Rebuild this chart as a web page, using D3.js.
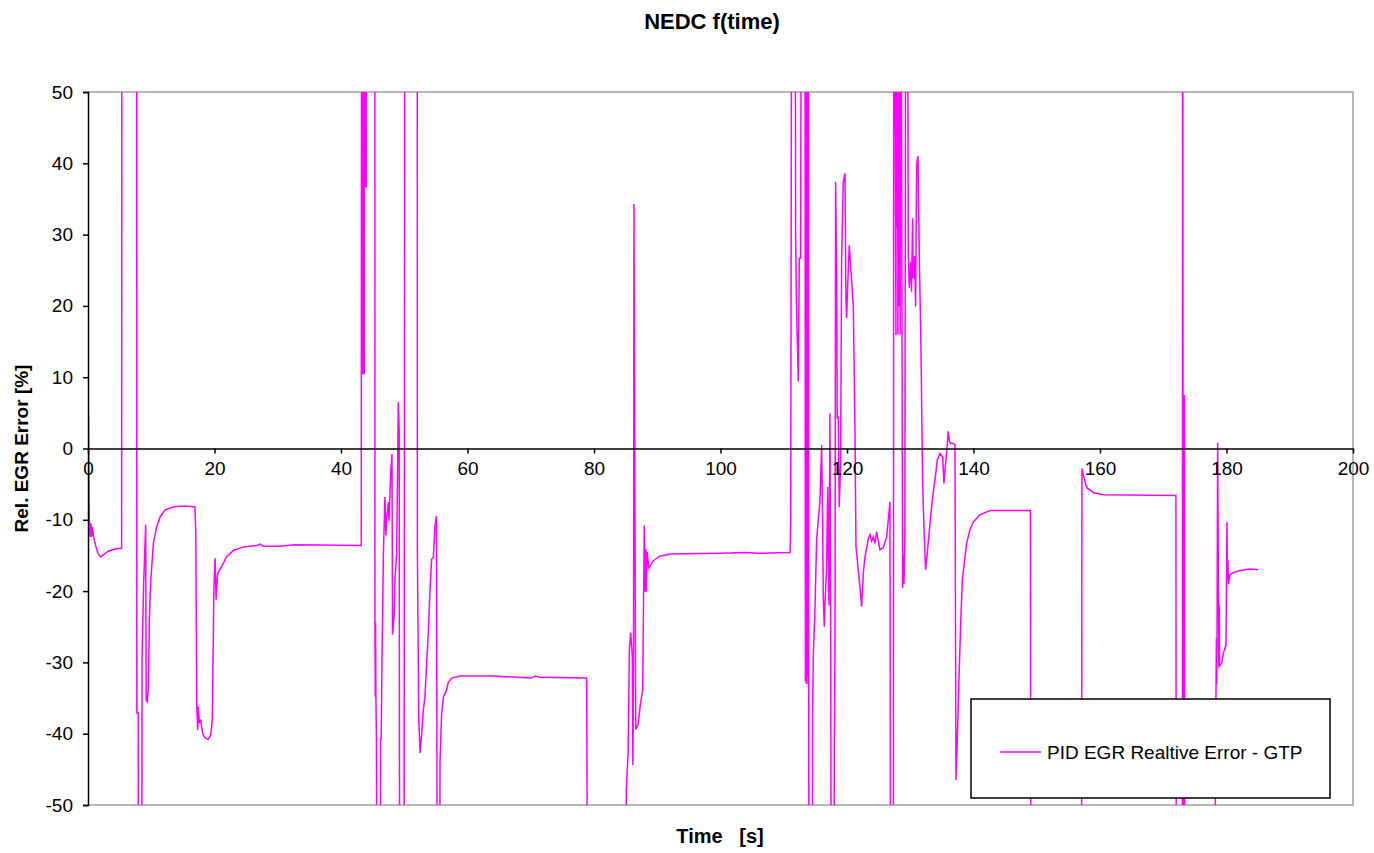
<!DOCTYPE html>
<html>
<head>
<meta charset="utf-8">
<script src="https://cdn.jsdelivr.net/npm/d3@7"></script>
<style>
  body { margin: 0; background: #fff; }
  svg text { font-family: "Liberation Sans", Arial, sans-serif; }
</style>
</head>
<body>
<div id="chart"></div>
<script>
// time axis [s] and relative EGR error [%]; +/-100 marks readings off the plotted range
const timeSec = [
  0, 0.03, 0.08, 0.12, 0.2, 0.35, 0.45, 0.55, 0.7, 0.9, 1.26, 1.6, 2.0, 2.6, 3.2, 4.27, 5.32,
  5.37, 7.7, 7.72, 7.95, 8.0, 8.45, 8.55, 8.8, 9.12, 9.2, 9.38, 9.55, 9.7, 9.9, 10.33, 10.86,
  11.4, 12.2, 13.5, 14.5, 15.9, 16.9, 17.05, 17.2, 17.35, 17.45, 17.6, 17.8, 18.13, 18.5, 19.0,
  19.4, 19.66, 19.9, 20.1, 20.25, 20.5, 21.1, 21.9, 23.0, 24.6, 26.7, 27.2, 27.7, 30.3, 32.7,
  43.2, 43.27, 43.35, 43.4, 43.45, 43.5, 43.56, 43.62, 43.68, 43.74, 43.8, 44.0, 44.05, 45.35,
  45.37, 45.42, 45.47, 45.52, 45.6, 45.8, 46.2, 46.25, 46.35, 46.5, 46.7, 46.95, 47.1, 47.2,
  47.5, 47.6, 47.85, 48.06, 48.15, 48.4, 48.55, 48.8, 49.06, 49.2, 49.3, 49.95, 50.1, 52.05,
  52.07, 52.3, 52.5, 52.75, 53.0, 53.28, 53.54, 53.8, 54.07, 54.33, 54.6, 54.86, 55.1, 55.28,
  55.6, 55.65, 55.9, 56.2, 56.6, 56.97, 57.5, 58.8, 64, 70.1, 70.8, 71.4, 78.84, 79.1,
  85.05, 85.1, 85.4, 85.6, 85.8, 86.05, 86.15, 86.25, 86.32, 86.45, 86.6, 86.95, 87.3, 87.7,
  87.95, 88.1, 88.2, 88.3, 88.4, 88.7, 89.3, 90.4, 92, 100, 104, 106, 111.0, 111.1, 111.3,
  111.77, 111.88, 112.03, 112.3, 112.46, 112.67, 112.83, 113.35, 113.42, 113.48, 113.56,
  113.62, 113.7, 113.76, 113.84, 113.9, 113.98, 114.5, 114.55, 114.67, 114.93, 115.2, 115.46,
  115.72, 115.99, 116.15, 116.25, 116.41, 116.51, 116.78, 116.94, 117.15, 117.3, 117.41,
  117.57, 117.9, 117.99, 118.1, 118.2, 118.36, 118.46, 118.62, 118.78, 118.99, 119.15, 119.41,
  119.68, 119.83, 119.94, 120.1, 120.36, 120.57, 120.78, 121.0, 121.26, 121.42, 121.78,
  122.05, 122.31, 122.58, 122.84, 123.1, 123.37, 123.63, 123.9, 124.16, 124.42, 124.68,
  124.95, 125.21, 125.74, 126.26, 126.53, 126.79, 126.95, 127.32, 127.4, 127.74, 127.8,
  127.9, 127.95, 128.05, 128.1, 128.2, 128.3, 128.4, 128.48, 128.79, 128.9, 129.0, 129.15,
  129.32, 129.5, 129.69, 129.85, 130.11, 130.2, 130.37, 130.45, 130.59, 130.7, 130.85,
  131.01, 131.22, 131.43, 131.69, 131.96, 132.17, 132.43, 132.69, 133.12, 133.54, 133.91,
  134.27, 134.7, 135.12, 135.33, 135.49, 135.75, 136.01, 136.2, 136.38, 136.8, 137.07,
  137.23, 137.44, 137.7, 137.96, 138.23, 138.54, 138.91, 139.44, 139.97, 141.02, 142.6,
  149.0, 149.1, 157.05, 157.15, 157.4, 157.9, 159, 160.6, 172.0, 172.1, 173.02, 173.06,
  173.12, 173.18, 173.24, 173.3, 173.36, 173.42, 177.4, 178.2, 178.25, 178.34, 178.4, 178.45,
  178.5, 178.6, 178.7, 178.8, 178.86, 178.9, 179.23, 179.5, 179.92, 180.08, 180.15, 180.23,
  180.3, 180.55, 181.08, 182.13, 183.71, 185.03
];
const relErr = [
  0, 4.7, 4.7, -2, -10, -12.4, -10.5, -12.4, -11, -12.5, -13.8, -14.7, -15.2, -14.8, -14.4, -14.1, -14.0,
  100, 100, -37.1, -37.1, -100, -100, -29.2, -18.9, -10.7, -35.3, -35.5, -33.4, -24, -18.9, -13.3, -11,
  -9.6, -8.6, -8.2, -8.1, -8.1, -8.2, -11.9, -36.2, -39.5, -36.2, -38.5, -38, -40, -40.6, -40.8,
  -40.2, -38, -19.8, -15.4, -21.2, -17.5, -16.6, -15.2, -14.3, -13.8, -13.6, -13.4, -13.7, -13.7, -13.5,
  -13.6, 100, 10.4, 100, 10.4, 100, 10.4, 100, 10.4, 100, 36.7, 36.7, 100, 100,
  -24.4, -34.8, -24.4, -34.8, -40.7, -100, -100, -40.7, -40.7, -28.4, -14.8, -6.8, -12.2, -10.2,
  -7.5, -10.2, -3.5, -0.8, -26.1, -23.4, -18.1, -14.8, 6.5, 2.5, -100, -100, 100, 100,
  -13.8, -38.1, -42.7, -40.1, -36.8, -34.8, -30.1, -26.1, -19.8, -15.5, -15.3, -10.8, -9.5, -100,
  -100, -44.1, -37.4, -34.8, -34.1, -32.8, -32.2, -31.9, -31.9, -32.2, -31.9, -32.1, -32.2, -100,
  -100, -48, -42.7, -28.1, -25.8, -29.1, -44.4, -30, 34.3, -2.2, -39.4, -38.8, -36.1, -33.8,
  -10.8, -20.1, -14.1, -20.1, -14.5, -16.8, -15.8, -15.1, -14.8, -14.7, -14.6, -14.7, -14.6, -10.2, 100,
  100, 29.7, 19.4, 9.4, 26.7, 26.7, 100, 100, -32.7, 100, -33,
  100, -32, 100, -33, 100, -100, -100, -37.6, -29.2, -22.6, -12.8, -10,
  -7.5, 0.5, -10.5, -20.8, -25, -22, -16.6, -5.4, -22, 4.9, -21.3,
  -100, -100, -41.8, -28, 37.4, 25.3, 4.2, 4.5, -8.2, -2.1, 26.4, 37.4,
  38.6, 21, 18.3, 22.5, 28.5, 25.7, 22.9, 20.1, 2.4, -13.8, -17,
  -19.4, -22.2, -17.5, -15.2, -14, -12.6, -12.1, -13, -12.4, -13.3, -11.7,
  -13, -14.2, -13.9, -12.4, -10, -7.5, -100, -100, 100, 15.9, 100,
  30.9, 100, 16, 100, 20, 100, 16, 100, -19.6, -15, -19, -12.4,
  100, 100, 27.6, 22.5, 26.2, 22, 32.3, 24, 23.9, 27, 19.9,
  39.8, 41, 27.1, 14.5, -4.9, -11, -17, -14.7, -10.5, -6.8, -4.4,
  -1.6, -0.7, -1.2, -4.9, -3, -0.7, 2.4, 1.0, 0.7, 0.7, 0.5,
  -46.5, -40.9, -32.5, -25, -18.4, -16.1, -13.3, -11.4, -10.3, -9.3, -8.7,
  -8.7, -100, -100, -2.8, -3.8, -5.5, -6.2, -6.5, -6.6, -100, -100, 100,
  7.5, -100, 7.5, -100, 7.5, -100, -100, -100, -45, -33.9, -26.6, -33,
  -28, 0.8, -15.2, -30.8, -22, -30.5, -30.1, -28.7, -27.6, -10.3, -18.5, -15.7,
  -19, -17.7, -17.4, -17.1, -16.9, -17.0
];

const xTicks = [0, 20, 40, 60, 80, 100, 120, 140, 160, 180, 200];
const yTicks = [50, 40, 30, 20, 10, 0, -10, -20, -30, -40, -50];
const seriesName = "PID EGR Realtive Error - GTP";

const width = 1374;
const height = 853;
const marginTop = 92;
const marginRight = 21;
const marginBottom = 48;
const marginLeft = 88;

const data = timeSec.map((t, i) => ({ t: t, v: relErr[i] }));

const x = d3.scaleLinear().domain([0, 200]).range([marginLeft, width - marginRight]);
const y = d3.scaleLinear().domain([-50, 50]).range([height - marginBottom, marginTop]);

const svg = d3
  .select("#chart")
  .append("svg")
  .attr("width", width)
  .attr("height", height)
  .attr("viewBox", [0, 0, width, height]);

svg.append("clipPath")
  .attr("id", "plotClip")
  .append("rect")
  .attr("x", x(0))
  .attr("y", y(50))
  .attr("width", x(200) - x(0))
  .attr("height", y(-50) - y(50));

// grey plot-area frame (top, right, bottom)
svg.append("path")
  .attr("fill", "none")
  .attr("stroke", "#a0a0a0")
  .attr("stroke-width", 1.5)
  .attr("d", `M${x(0)},${y(50)}H${x(200)}V${y(-50)}H${x(0)}`);

// series
svg.append("path")
  .datum(data)
  .attr("clip-path", "url(#plotClip)")
  .attr("fill", "none")
  .attr("stroke", "#ff00ff")
  .attr("stroke-width", 1.5)
  .attr("d", d3.line().x((d) => x(d.t)).y((d) => y(d.v)));

// plain hyphen minus like the original
const fmt = (d) => String(d);

// y axis
const yAxis = svg.append("g")
  .attr("transform", `translate(${x(0)},0)`)
  .call(d3.axisLeft(y).tickValues(yTicks).tickSize(5).tickPadding(10).tickFormat(fmt));
yAxis.select(".domain").attr("stroke", "#000").attr("stroke-width", 1.5);
yAxis.selectAll(".tick line").attr("stroke", "#000").attr("stroke-width", 1.5);
yAxis.selectAll(".tick text").attr("font-size", 19).attr("fill", "#000")
  .attr("font-family", "Liberation Sans, Arial, sans-serif");

// x axis crossing at 0
const xAxis = svg.append("g")
  .attr("transform", `translate(0,${y(0)})`)
  .call(d3.axisBottom(x).tickValues(xTicks).tickSize(5).tickSizeOuter(0).tickPadding(8).tickFormat(fmt));
xAxis.select(".domain").attr("stroke", "#000").attr("stroke-width", 1.5);
xAxis.selectAll(".tick line").attr("stroke", "#000").attr("stroke-width", 1.5);
xAxis.selectAll(".tick text").attr("font-size", 19).attr("fill", "#000")
  .attr("font-family", "Liberation Sans, Arial, sans-serif");

// titles
svg.append("text")
  .attr("x", 712)
  .attr("y", 29)
  .attr("text-anchor", "middle")
  .attr("font-size", 22)
  .attr("font-weight", "bold")
  .text("NEDC f(time)");

svg.append("text")
  .attr("transform", `translate(28,${y(0)}) rotate(-90)`)
  .attr("text-anchor", "middle")
  .attr("font-size", 19)
  .attr("font-weight", "bold")
  .text("Rel. EGR Error [%]");

svg.append("text")
  .attr("x", 720)
  .attr("y", 843)
  .attr("text-anchor", "middle")
  .attr("font-size", 20)
  .attr("font-weight", "bold")
  .style("white-space", "pre")
  .text("Time   [s]");

// legend
const legend = svg.append("g").attr("transform", "translate(971,699)");
legend.append("rect")
  .attr("width", 359)
  .attr("height", 99)
  .attr("fill", "#fff")
  .attr("stroke", "#000")
  .attr("stroke-width", 1.5);
legend.append("line")
  .attr("x1", 29)
  .attr("x2", 70)
  .attr("y1", 53)
  .attr("y2", 53)
  .attr("stroke", "#ff00ff")
  .attr("stroke-width", 1.5);
legend.append("text")
  .attr("x", 76)
  .attr("y", 60)
  .attr("font-size", 19)
  .text(seriesName);
</script>
</body>
</html>
